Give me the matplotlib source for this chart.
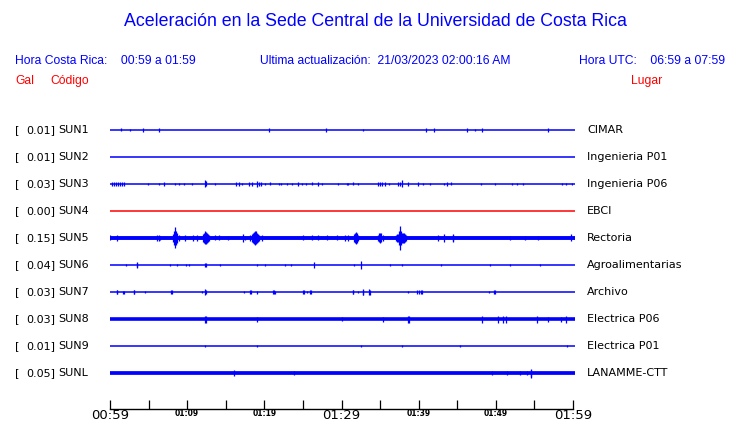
import matplotlib
matplotlib.use("Agg")
from matplotlib import pyplot as plt
from matplotlib.transforms import blended_transform_factory

# Station data
codes = ["SUN1", "SUN2", "SUN3", "SUN4", "SUN5", "SUN6", "SUN7", "SUN8", "SUN9", "SUNL"]
places = ["CIMAR", "Ingenieria P01", "Ingenieria P06", "EBCI", "Rectoria",
          "Agroalimentarias", "Archivo", "Electrica P06", "Electrica P01", "LANAMME-CTT"]
gal = [0.01, 0.01, 0.03, 0.00, 0.15, 0.04, 0.03, 0.03, 0.01, 0.05]
trace_colors = ["blue", "blue", "blue", "red", "blue", "blue", "blue", "blue", "blue", "blue"]
# baseline noise thickness (pt)
base_lw = [1.1, 1.1, 1.1, 1.1, 2.8, 1.1, 1.1, 2.6, 1.1, 2.7]

# spikes per station: (minutes after 00:59, half amplitude in px)
sun1 = [(1.4, 1.5), (2.6, 1), (4.3, 2), (6.3, 2), (20.6, 2), (28.0, 2), (32.8, 1),
        (40.9, 2), (42.0, 2), (46.2, 2), (47.3, 1), (48.2, 2), (56.7, 2)]
sun2 = []
sun3 = [(0.2, 2), (0.5, 2), (0.8, 2), (1.0, 2), (1.3, 2), (1.5, 2), (1.85, 2), (4.96, 1),
        (6.39, 1), (7.0, 2), (8.46, 1), (8.9, 1), (9.63, 1), (10.59, 1), (12.31, 3.5),
        (12.4, 2.5), (13.65, 1), (16.29, 2), (16.68, 2), (17.14, 1), (18.01, 2), (18.4, 2),
        (19.01, 3), (19.31, 2), (19.61, 2), (20.12, 1), (20.73, 1.5), (21.94, 1), (22.16, 1),
        (22.9, 1), (23.62, 1), (24.4, 2), (24.84, 1), (25.4, 1), (26.18, 1.5), (26.91, 2),
        (27.51, 1), (29.58, 1), (30.67, 1), (30.88, 1), (31.53, 1.5), (32.18, 1), (34.73, 2),
        (34.99, 2), (35.25, 2), (35.64, 2), (36.19, 1), (37.32, 2), (37.58, 2), (37.88, 3.5),
        (38.58, 2), (39.91, 2), (40.56, 1), (41.51, 1), (43.24, 1), (43.63, 2), (44.19, 1.5),
        (48.11, 1), (49.93, 1), (52.13, 1), (52.7, 1), (53.56, 1), (58.53, 1), (59.05, 1),
        (59.91, 1)]
sun4 = []
sun5 = [(0.0, 2.5), (0.87, 3), (6.09, 3), (6.35, 3), (6.54, 2), (8.16, 4), (8.29, 7),
        (8.42, 10.5), (8.55, 7), (8.68, 5), (8.94, 3), (9.72, 3), (10.76, 3), (11.24, 3),
        (12.05, 4), (12.18, 5), (12.31, 6.5), (12.44, 6), (12.57, 5), (12.7, 4), (12.83, 3),
        (13.65, 2.5), (14.16, 2.5), (15.25, 2), (17.2, 4), (17.49, 2), (18.14, 3), (18.4, 4),
        (18.53, 5), (18.66, 6), (18.79, 7), (18.92, 6.5), (19.05, 5), (19.18, 4), (19.31, 3),
        (19.74, 3), (25.05, 2.5), (26.14, 2.5), (26.99, 2.5), (28.08, 2.5), (29.38, 2.5),
        (30.45, 3), (30.88, 3), (31.62, 4), (31.75, 5), (31.88, 6), (32.01, 5), (32.14, 3),
        (34.73, 3), (34.86, 4.5), (34.99, 5), (35.12, 4.5), (35.38, 3), (37.06, 3), (37.19, 4),
        (37.32, 4), (37.45, 7), (37.58, 12), (37.71, 7), (37.84, 5), (37.97, 5), (38.1, 5),
        (38.23, 4), (38.36, 3), (42.5, 3), (43.32, 4), (44.41, 4), (44.51, 3), (51.83, 2),
        (53.78, 2), (55.46, 2), (59.7, 3.5)]
sun6 = [(2.11, 1.5), (3.46, 3), (3.52, 2), (7.81, 1.5), (8.72, 1.5), (9.89, 1.5), (10.28, 1.5),
        (12.31, 2), (12.38, 2), (14.29, 1.5), (19.01, 0.8), (20.12, 0.8), (22.72, 1.5),
        (23.49, 1.5), (26.43, 3), (31.66, 0.8), (32.49, 3.5), (36.32, 1.5), (37.88, 0.8),
        (42.93, 1.5), (49.28, 1.5), (51.87, 1.5), (55.76, 1.5)]
sun7 = [(0.87, 2), (0.95, 2), (1.65, 1.5), (1.85, 1.5), (3.07, 2), (3.15, 2), (4.57, 1),
        (7.94, 2), (8.03, 2), (11.88, 1), (12.35, 3), (12.43, 2), (17.4, 1), (18.18, 2),
        (18.27, 2), (19.09, 1.5), (21.12, 2), (21.2, 2), (21.42, 1.5), (25.05, 2), (25.13, 2),
        (25.53, 1), (25.96, 2), (26.04, 2), (31.45, 2), (31.53, 2), (32.18, 1), (32.75, 3),
        (32.83, 2.5), (33.56, 3), (33.64, 2.5), (38.58, 1), (39.78, 2), (40.04, 2), (40.3, 2),
        (40.47, 2), (49.15, 1), (49.8, 2), (49.88, 2)]
sun8 = [(12.31, 3.5), (12.4, 3.5), (19.09, 2.5), (30.02, 2), (35.42, 2.5), (38.62, 3.5),
        (38.7, 3.5), (48.21, 3.5), (50.24, 3.5), (50.89, 3.5), (51.32, 3.5), (55.29, 3.5),
        (56.8, 2.5), (58.48, 2.5), (59.09, 3.5)]
sun9 = [(12.35, 1.2), (19.09, 1), (32.49, 1), (37.88, 1.2), (45.39, 1), (59.18, 1)]
sunl = [(16.11, 3), (23.8, 2), (49.54, 2), (51.48, 2), (53.13, 2), (54.0, 2), (54.52, 4.5),
        (54.6, 3.5)]
spikes = [sun1, sun2, sun3, sun4, sun5, sun6, sun7, sun8, sun9, sunl]

tick_minutes = list(range(0, 61, 5))
tick_labels = ["00:59", "", "01:09", "", "01:19", "", "01:29", "", "01:39", "", "01:49", "", "01:59"]

W, H = 740, 423
row_px = 27.0
fig = plt.figure(figsize=(W / 100, H / 100), dpi=100)
fig.patch.set_facecolor("white")

# axes: x 110..573 px, y 115..409 px (from top)
ax = fig.add_axes([110 / W, (H - 409) / H, 463 / W, 294 / H])
ax.set_xlim(0, 60)
ax.set_ylim((409 - 130) / row_px, -15 / row_px)
ax.set_facecolor("white")

for i, code in enumerate(codes):
    ax.plot([0, 60.3], [i, i], color=trace_colors[i], lw=base_lw[i],
            solid_capstyle="butt", clip_on=False)
    for t, a in spikes[i]:
        ax.vlines(t, i - a / row_px, i + a / row_px, color=trace_colors[i], lw=0.9)

for s in ["top", "left", "right"]:
    ax.spines[s].set_visible(False)
ax.spines["bottom"].set_linewidth(1.0)
ax.set_yticks([])
ax.set_xticks(tick_minutes)
ax.set_xticklabels(tick_labels)
ax.tick_params(axis="x", direction="in", length=6.5, width=0.9, pad=0.3)
for lbl, txt in zip(ax.get_xticklabels(), tick_labels):
    if txt in ("00:59", "01:29", "01:59"):
        lbl.set_fontsize(9.5)
    else:
        lbl.set_fontsize(5.5)
        lbl.set_fontweight("bold")

# left and right labels
tr = blended_transform_factory(fig.transFigure, ax.transData)
for i, code in enumerate(codes):
    fig.text(15 / W, i, "[", transform=tr, fontsize=8, va="center", ha="left")
    fig.text(55 / W, i, "%.2f]" % gal[i], transform=tr, fontsize=8, va="center", ha="right")
    fig.text(58 / W, i, code, transform=tr, fontsize=8, va="center", ha="left")
    fig.text(587 / W, i, places[i], transform=tr, fontsize=8, va="center", ha="left")

# header
hfont = "Liberation Sans"
fig.text(375 / W, 1 - 22 / H, "Aceleración en la Sede Central de la Universidad de Costa Rica",
         color="blue", fontsize=12.8, family=hfont, ha="center", va="center")
fig.text(15 / W, 1 - 61 / H, "Hora Costa Rica:    00:59 a 01:59", color="blue",
         fontsize=8.7, family=hfont, ha="left", va="center")
fig.text(260 / W, 1 - 61 / H, "Ultima actualización:  21/03/2023 02:00:16 AM", color="blue",
         fontsize=8.7, family=hfont, ha="left", va="center")
fig.text(725 / W, 1 - 61 / H, "Hora UTC:    06:59 a 07:59", color="blue",
         fontsize=8.7, family=hfont, ha="right", va="center")
fig.text(15 / W, 1 - 81 / H, "Gal", color="red", fontsize=8.7, family=hfont, ha="left", va="center")
fig.text(50 / W, 1 - 81 / H, "Código", color="red", fontsize=8.7, family=hfont, ha="left", va="center")
fig.text(662 / W, 1 - 81 / H, "Lugar", color="red", fontsize=8.7, family=hfont, ha="right", va="center")

fig.savefig("out.png", dpi=100)
